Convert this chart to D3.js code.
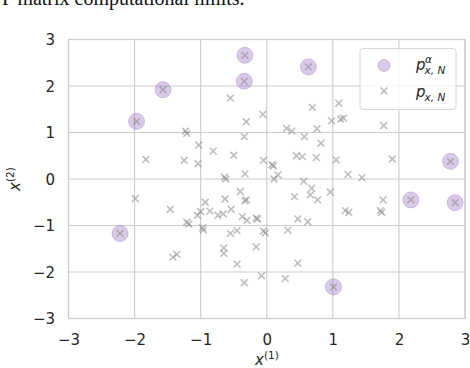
<!DOCTYPE html>
<html>
<head>
<meta charset="utf-8">
<script src="https://cdn.jsdelivr.net/npm/d3@7"></script>
<style>
  body { margin: 0; background: #fff; }
  svg { display: block; }
  .tick-label { font-family: "DejaVu Sans", sans-serif; font-size: 15px; fill: #262626; }
  .math { font-family: "DejaVu Sans", sans-serif; fill: #262626; }
</style>
</head>
<body>
<svg id="chart"></svg>
<script>
// selected points p^alpha_{x,N}
const alphaPoints = [
  [-2.22, -1.17], [-1.97, 1.24], [-1.57, 1.92], [-0.33, 2.66], [-0.34, 2.10],
  [0.63, 2.41], [1.01, -2.32], [2.18, -0.45], [2.78, 0.38], [2.85, -0.51]
];

// all samples p_{x,N}
const samplePoints = [
  [-1.83, 0.42], [-1.23, 1.03], [-1.21, 0.98], [-1.03, 0.73], [-1.25, 0.40], [-1.04, 0.33],
  [-0.55, 1.74], [-0.31, 1.23], [-0.06, 1.39], [-0.34, 0.91], [-0.81, 0.60], [-0.50, 0.51],
  [-0.05, 0.40], [0.08, 0.31], [0.10, 0.28], [0.17, 0.09], [0.11, 0.00], [-0.33, 0.11],
  [-0.64, 0.04], [-0.62, 0.00],
  [0.69, 1.54], [1.09, 1.63], [0.98, 1.25], [1.12, 1.29], [1.16, 1.31], [1.77, 1.15],
  [0.30, 1.09], [0.38, 1.03], [0.57, 0.91], [0.76, 1.08], [0.82, 0.77], [0.45, 0.50],
  [0.54, 0.48], [0.75, 0.46], [1.05, 0.41], [1.90, 0.43], [1.23, 0.10], [1.44, 0.03],
  [0.56, -0.05], [0.68, -0.20], [0.66, -0.34], [0.77, -0.45], [0.42, -0.38], [0.96, -0.28],
  [1.19, -0.68], [1.24, -0.72], [1.76, -0.45], [1.72, -0.68], [1.74, -0.72], [0.47, -0.86],
  [0.62, -0.92], [0.32, -1.10], [-0.05, -1.12], [-0.02, -1.16],
  [-1.99, -0.42], [-1.46, -0.65], [-0.93, -0.50], [-0.63, -0.43], [-0.40, -0.27], [-0.33, -0.47],
  [-0.31, -0.45], [-1.00, -0.70], [-1.05, -0.78], [-1.21, -0.93], [-1.18, -0.97], [-0.97, -1.05],
  [-0.96, -1.10], [-0.86, -0.69], [-0.74, -0.78], [-0.66, -0.75], [-0.54, -0.65], [-0.37, -0.81],
  [-0.30, -0.89], [-0.16, -0.84], [-0.14, -0.86], [-0.55, -1.17], [-0.45, -1.11], [-1.42, -1.68],
  [-1.36, -1.62], [-0.65, -1.48], [-0.65, -1.60], [-0.16, -1.46], [-0.45, -1.83], [-0.34, -2.23],
  [-0.08, -2.08], [0.47, -1.81], [0.28, -2.14]
];

const xTicks = [-3, -2, -1, 0, 1, 2, 3];
const yTicks = [-3, -2, -1, 0, 1, 2, 3];
const captionText = 'P matrix computational limits.';

const width = 470, height = 368;
const margin = { left: 68.5, right: 5, top: 39.5, bottom: 49.5 };
const purple = '#9467bd';

const svg = d3.select('#chart')
  .attr('width', width)
  .attr('height', height);

// cut-off caption line from the page above
svg.append('text')
  .attr('x', 2)
  .attr('y', 5)
  .attr('font-family', '"Liberation Serif", serif')
  .attr('font-size', 20)
  .attr('fill', '#111')
  .text(captionText);

const xScale = d3.scaleLinear()
  .domain([-3, 3])
  .range([margin.left, width - margin.right]);

const yScale = d3.scaleLinear()
  .domain([-3, 3])
  .range([height - margin.bottom, margin.top]);

// grid
const grid = svg.append('g');
grid.selectAll('.vgrid')
  .data(xTicks)
  .join('line')
  .attr('x1', d => xScale(d)).attr('x2', d => xScale(d))
  .attr('y1', yScale(-3)).attr('y2', yScale(3))
  .attr('stroke', '#cccccc').attr('stroke-width', 1.1);
grid.selectAll('.hgrid')
  .data(yTicks)
  .join('line')
  .attr('y1', d => yScale(d)).attr('y2', d => yScale(d))
  .attr('x1', xScale(-3)).attr('x2', xScale(3))
  .attr('stroke', '#cccccc').attr('stroke-width', 1.1);

// frame
svg.append('rect')
  .attr('x', xScale(-3)).attr('y', yScale(3))
  .attr('width', xScale(3) - xScale(-3))
  .attr('height', yScale(-3) - yScale(3))
  .attr('fill', 'none')
  .attr('stroke', '#cccccc')
  .attr('stroke-width', 1.25);

// axes (tick text only, seaborn whitegrid look)
const fmt = d => d < 0 ? '\u2212' + Math.abs(d) : String(d);

const xAxis = d3.axisBottom(xScale).tickValues(xTicks).tickFormat(fmt).tickSize(0).tickPadding(0);
const yAxis = d3.axisLeft(yScale).tickValues(yTicks).tickFormat(fmt).tickSize(0).tickPadding(0);

const xAxisG = svg.append('g')
  .attr('transform', `translate(0,${yScale(-3)})`)
  .call(xAxis);
xAxisG.select('.domain').remove();
xAxisG.selectAll('text')
  .attr('class', 'tick-label')
  .attr('dy', null)
  .attr('y', 26.5)
  .attr('fill', null);

const yAxisG = svg.append('g')
  .attr('transform', `translate(${xScale(-3)},0)`)
  .call(yAxis);
yAxisG.select('.domain').remove();
yAxisG.selectAll('text')
  .attr('class', 'tick-label')
  .attr('x', -13.5)
  .attr('dy', '0.36em')
  .attr('fill', null);

// selected points (circles)
svg.append('g')
  .selectAll('circle')
  .data(alphaPoints)
  .join('circle')
  .attr('cx', d => xScale(d[0]))
  .attr('cy', d => yScale(d[1]))
  .attr('r', 8)
  .attr('fill', purple).attr('fill-opacity', 0.35)
  .attr('stroke', purple).attr('stroke-opacity', 0.35).attr('stroke-width', 1);

// all samples (x markers)
const xPath = s => `M${-s},${-s}L${s},${s}M${-s},${s}L${s},${-s}`;
svg.append('g')
  .selectAll('path')
  .data(samplePoints.concat(alphaPoints))
  .join('path')
  .attr('transform', d => `translate(${xScale(d[0])},${yScale(d[1])})`)
  .attr('d', xPath(3.4))
  .attr('stroke', '#7a7a7a')
  .attr('stroke-opacity', 0.5)
  .attr('stroke-width', 1.5)
  .attr('fill', 'none');

// axis labels
const xLab = svg.append('text')
  .attr('class', 'math')
  .attr('x', 267)
  .attr('y', 365)
  .attr('text-anchor', 'middle');
xLab.append('tspan').attr('font-style', 'italic').attr('font-size', 15).text('x');
xLab.append('tspan').attr('font-size', 10.5).attr('dy', -6).text('(1)');

const yLab = svg.append('text')
  .attr('class', 'math')
  .attr('transform', `translate(20,${yScale(0)}) rotate(-90)`)
  .attr('text-anchor', 'middle');
yLab.append('tspan').attr('font-style', 'italic').attr('font-size', 15).text('x');
yLab.append('tspan').attr('font-size', 10.5).attr('dy', -6).text('(2)');

// legend
const legend = svg.append('g');
legend.append('rect')
  .attr('x', 360).attr('y', 48.5)
  .attr('width', 96).attr('height', 61)
  .attr('rx', 3)
  .attr('fill', '#fff').attr('fill-opacity', 0.8)
  .attr('stroke', '#d6d6d6').attr('stroke-width', 1);

legend.append('circle')
  .attr('cx', 384).attr('cy', 65.5).attr('r', 6)
  .attr('fill', purple).attr('fill-opacity', 0.35)
  .attr('stroke', purple).attr('stroke-opacity', 0.35);

legend.append('path')
  .attr('transform', 'translate(384,91)')
  .attr('d', xPath(3.4))
  .attr('stroke', '#7a7a7a').attr('stroke-opacity', 0.5)
  .attr('stroke-width', 1.5);

function mathLabel(x, y, sup) {
  legend.append('text').attr('class', 'math')
    .attr('x', x).attr('y', y)
    .attr('font-size', 15).attr('font-style', 'italic').text('p');
  if (sup) {
    legend.append('text').attr('class', 'math')
      .attr('x', x + 9).attr('y', y - 7.5)
      .attr('font-size', 10.5).attr('font-style', 'italic').text(sup);
  }
  legend.append('text').attr('class', 'math')
    .attr('x', x + 8.5).attr('y', y + 3.5)
    .attr('font-size', 10.5).attr('font-style', 'italic').text('x, N');
}
mathLabel(416, 70, '\u03b1');
mathLabel(416, 97, null);
</script>
</body>
</html>
